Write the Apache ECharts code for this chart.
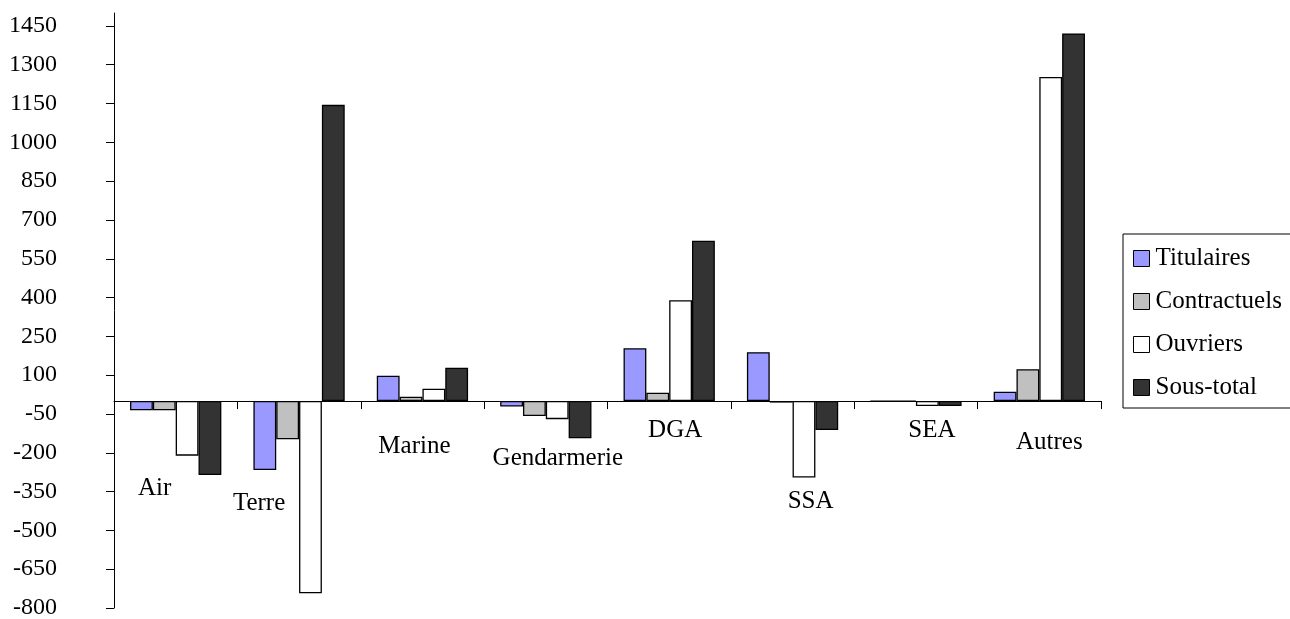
<!DOCTYPE html>
<html>
<head>
<meta charset="utf-8">
<script src="https://cdn.jsdelivr.net/npm/echarts@6/dist/echarts.min.js"></script>
<style>
  html, body { margin: 0; padding: 0; background: #fff; }
  #chart { width: 1290px; height: 619px; }
</style>
</head>
<body>
<div id="chart"></div>
<script>
// Catégories (directions / armées)
const categories = ['Air', 'Terre', 'Marine', 'Gendarmerie', 'DGA', 'SSA', 'SEA', 'Autres'];

// Variations d'effectifs par catégorie de personnel
const titulaires   = [-36, -267, 98, -21, 204, 189, 0, 36];
const contractuels = [-36, -148, 17, -58, 32, -6, 0, 123];
const ouvriers     = [-211, -743, 48, -70, 390, -296, -19, 1253];
const sousTotal    = [-286, 1145, 129, -144, 620, -112, -19, 1421];

// Graduations de l'axe vertical
const yTicks = [-800, -650, -500, -350, -200, -50, 100, 250, 400, 550, 700, 850, 1000, 1150, 1300, 1450];

// Décalage des étiquettes de catégorie par rapport au centre de la catégorie sur l'axe zéro : [dx, dy] en pixels
const labelShift = [[-21, 87], [-40, 102], [-8, 45], [12, 57], [6, 29], [18, 100], [16, 29], [10, 41]];

const FONT = 'Liberation Serif, Times New Roman, serif';

const seriesDefs = [
  { name: 'Titulaires', data: titulaires, color: '#9999FF' },
  { name: 'Contractuels', data: contractuels, color: '#C0C0C0' },
  { name: 'Ouvriers', data: ouvriers, color: '#FFFFFF' },
  { name: 'Sous-total', data: sousTotal, color: '#333333' }
];

const chart = echarts.init(document.getElementById('chart'), null, { renderer: 'canvas' });

chart.setOption({
  animation: false,
  backgroundColor: '#fff',
  textStyle: { fontFamily: FONT },
  grid: { left: 114, right: 189, top: 13, bottom: 11, containLabel: false, outerBoundsMode: 'none' },
  legend: {
    orient: 'vertical',
    left: 1123,
    top: 234,
    padding: [12, 40, 8, 10],
    itemWidth: 16,
    itemHeight: 16,
    itemGap: 18,
    icon: 'rect',
    borderColor: '#000',
    borderWidth: 1,
    itemStyle: { borderColor: '#000', borderWidth: 1 },
    textStyle: { fontFamily: FONT, fontSize: 25, lineHeight: 24, color: '#000', padding: [0, 0, 0, 1] },
    data: seriesDefs.map(s => s.name)
  },
  xAxis: {
    type: 'category',
    data: categories,
    axisLine: { onZero: true, lineStyle: { color: '#000', width: 1 } },
    axisTick: { show: true, length: 8, inside: false, lineStyle: { color: '#000' } },
    axisLabel: { show: false },
    splitLine: { show: false }
  },
  yAxis: {
    type: 'value',
    min: -800,
    max: 1500,
    axisLine: { show: true, lineStyle: { color: '#000', width: 1 } },
    axisTick: { show: true, length: 8, customValues: yTicks, lineStyle: { color: '#000' } },
    axisLabel: {
      customValues: yTicks,
      margin: 57,
      fontFamily: FONT,
      fontSize: 24,
      color: '#000',
      formatter: v => String(v)
    },
    splitLine: { show: false }
  },
  series: seriesDefs.map(s => ({
    name: s.name,
    type: 'bar',
    data: s.data,
    barGap: '0%',
    barCategoryGap: '26%',
    itemStyle: { color: s.color, borderColor: '#000', borderWidth: 1.3 },
    emphasis: { disabled: true }
  }))
});

// Étiquettes de catégorie placées sous l'axe zéro, à partir des positions de l'axe
chart.setOption({
  graphic: categories.map((name, i) => {
    const p = chart.convertToPixel({ xAxisIndex: 0, yAxisIndex: 0 }, [name, 0]);
    return {
      type: 'text',
      x: p[0] + labelShift[i][0],
      y: p[1] + labelShift[i][1],
      style: {
        text: name,
        fontFamily: FONT,
        fontSize: 25,
        fill: '#000',
        align: 'center',
        verticalAlign: 'middle'
      },
      silent: true
    };
  })
});
</script>
</body>
</html>
